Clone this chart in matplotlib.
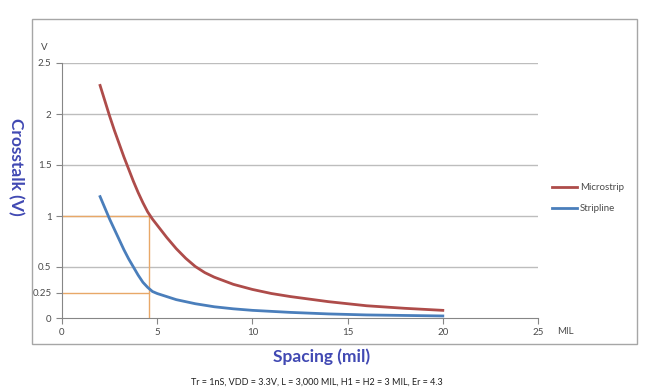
import matplotlib.pyplot as plt
from matplotlib.patches import Rectangle

# Data
spacing = [2, 2.25, 2.5, 2.75, 3, 3.25, 3.5, 3.75, 4, 4.25, 4.5, 4.75, 5, 5.5, 6, 6.5,
           7, 7.5, 8, 9, 10, 11, 12, 14, 16, 18, 20]
microstrip = [2.28, 2.13, 1.98, 1.84, 1.71, 1.58, 1.46, 1.34, 1.23, 1.13, 1.04, 0.97,
              0.91, 0.79, 0.68, 0.585, 0.505, 0.445, 0.40, 0.33, 0.28, 0.24,
              0.21, 0.16, 0.12, 0.095, 0.075]
stripline = [1.19, 1.08, 0.97, 0.87, 0.77, 0.67, 0.58, 0.50, 0.42, 0.35, 0.30, 0.26,
             0.24, 0.21, 0.18, 0.16, 0.14, 0.125, 0.11, 0.09, 0.075, 0.065,
             0.055, 0.04, 0.03, 0.025, 0.02]

x_ticks = [0, 5, 10, 15, 20, 25]
y_ticks = [0, 0.25, 0.5, 1, 1.5, 2, 2.5]
y_ticklabels = ["0", "0.25", "0.5", "1", "1.5", "2", "2.5"]
grid_levels = [0.5, 1, 1.5, 2, 2.5]

# marker lines at the 1 V microstrip crossing
cross_x = 4.57
cross_levels = [1.0, 0.25]

RED = "#AE4C4A"
BLUE = "#4A7EBB"
GUIDE = "#E8A868"
TITLE_BLUE = "#4149B3"
TXT = "#4A4A4A"
FONT = "Lato"


def main():
    fig = plt.figure(figsize=(6.47, 3.91), dpi=100)

    # chart area border
    fig.patches.append(Rectangle((32 / 647, 1 - 344 / 391), (637 - 32) / 647, (344 - 19) / 391,
                                 transform=fig.transFigure, fill=False,
                                 edgecolor="#A6A6A6", linewidth=1.0))

    ax = fig.add_axes([62 / 647, 1 - 318 / 391, 476 / 647, 255 / 391])

    for y in grid_levels:
        ax.axhline(y, color="#BDBDBD", linewidth=1.0, zorder=0)

    for y in cross_levels:
        ax.plot([0, cross_x], [y, y], color=GUIDE, linewidth=1.0, zorder=1)
    ax.plot([cross_x, cross_x], [0, max(cross_levels)], color=GUIDE, linewidth=1.0, zorder=1)

    ax.plot(spacing, microstrip, color=RED, linewidth=2.0, label="Microstrip", zorder=3,
            solid_joinstyle="round")
    ax.plot(spacing, stripline, color=BLUE, linewidth=2.0, label="Stripline", zorder=3,
            solid_joinstyle="round")

    ax.set_xlim(0, 25)
    ax.set_ylim(0, 2.5)
    ax.set_xticks(x_ticks)
    ax.set_yticks(y_ticks)
    ax.set_yticklabels(y_ticklabels)
    ax.tick_params(labelsize=7, colors="#868686", labelcolor=TXT, length=4, width=0.8)
    for lab in ax.get_xticklabels() + ax.get_yticklabels():
        lab.set_family(FONT)

    for side in ["top", "right"]:
        ax.spines[side].set_visible(False)
    for side in ["left", "bottom"]:
        ax.spines[side].set_color("#868686")
        ax.spines[side].set_linewidth(0.8)

    ax.legend(loc="center left", bbox_to_anchor=(1.01, 0.47), frameon=False,
              prop={"family": FONT, "size": 7}, handlelength=2.6, handletextpad=0.3,
              labelspacing=1.2, labelcolor=TXT)

    fig.text(44 / 647, 1 - 47 / 391, "V", fontsize=7, color=TXT, ha="center", va="center",
             family=FONT)
    fig.text(565 / 647, 1 - 331 / 391, "MIL", fontsize=7, color=TXT, ha="center", va="center",
             family=FONT)

    fig.text(16 / 647, 1 - 167 / 391, "Crosstalk (V)", rotation=270, fontsize=12.5,
             fontweight="bold", color=TITLE_BLUE, ha="center", va="center", family=FONT)
    fig.text(322 / 647, 1 - 357 / 391, "Spacing (mil)", fontsize=12.5,
             fontweight="bold", color=TITLE_BLUE, ha="center", va="center", family=FONT)
    fig.text(317 / 647, 1 - 382 / 391,
             "Tr = 1nS, VDD = 3.3V, L = 3,000 MIL, H1 = H2 = 3 MIL, Er = 4.3",
             fontsize=6.5, color="#202020", ha="center", va="center", family=FONT)

    fig.savefig("out.png", dpi=100)


if __name__ == "__main__":
    main()
